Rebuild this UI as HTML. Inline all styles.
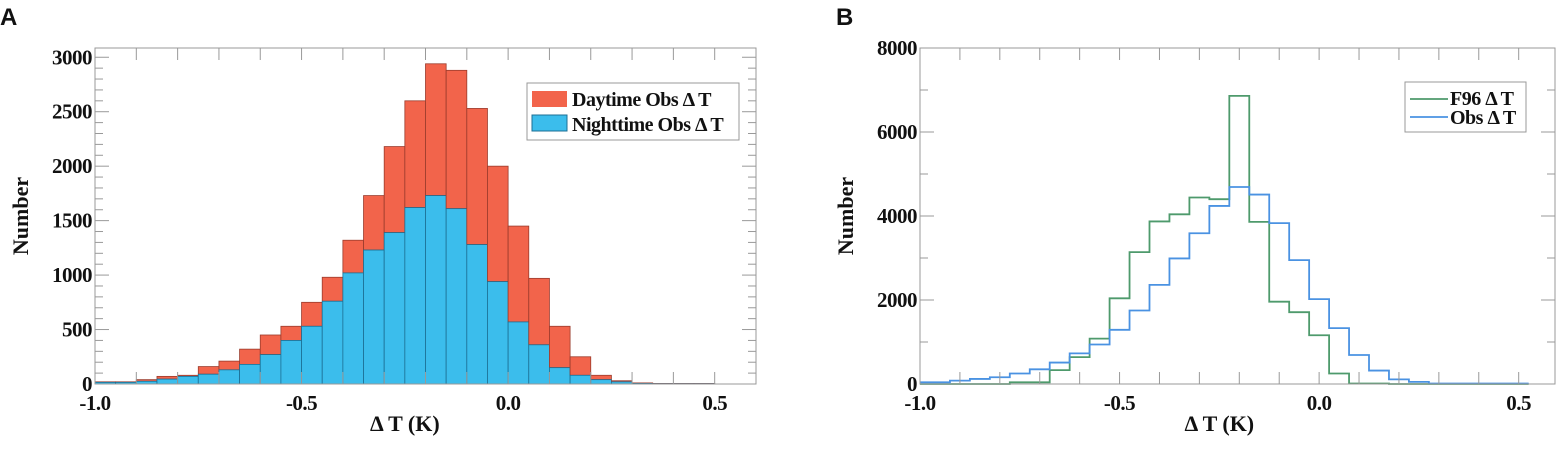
<!DOCTYPE html>
<html><head><meta charset="utf-8"><style>
body{margin:0;background:#fff;}
svg text{font-family:"Liberation Serif",serif;font-weight:bold;fill:#111;}
</style></head><body>
<svg id="c" width="1556" height="444" xmlns="http://www.w3.org/2000/svg">
<text x="0" y="25" style="font-family:'Liberation Sans',sans-serif;font-size:24px">A</text>
<text x="836" y="25" style="font-family:'Liberation Sans',sans-serif;font-size:24px">B</text>
<g id="pa"></g>
<g id="pb"></g>
</svg>
<script>
const centersA=[-0.975,-0.925,-0.875,-0.825,-0.775,-0.725,-0.675,-0.625,-0.575,-0.525,-0.475,-0.425,-0.375,-0.325,-0.275,-0.225,-0.175,-0.125,-0.075,-0.025,0.025,0.075,0.125,0.175,0.225,0.275,0.325,0.375,0.425,0.475];
const nightA=[15,15,25,45,70,90,130,180,270,400,530,760,1020,1230,1390,1620,1730,1610,1280,940,570,360,150,80,40,20,5,3,3,3];
const totalA=[20,20,40,70,80,160,210,320,450,530,750,980,1320,1730,2180,2600,2940,2880,2530,2000,1450,970,530,250,80,30,10,5,5,5];
const yTicksA=[0,500,1000,1500,2000,2500,3000];
const xTicks=[-1.0,-0.5,0.0,0.5];
const xTickLabels=["-1.0","-0.5","0.0","0.5"];
const centersB=[-1.0,-0.95,-0.9,-0.85,-0.8,-0.75,-0.7,-0.65,-0.6,-0.55,-0.5,-0.45,-0.4,-0.35,-0.3,-0.25,-0.2,-0.15,-0.1,-0.05,0,0.05,0.1,0.15,0.2,0.25,0.3,0.35,0.4,0.45,0.5];
const obsB=[40,40,80,120,160,250,350,510,730,940,1290,1750,2360,2990,3590,4240,4690,4510,3830,2950,2020,1330,690,320,110,50,10,10,10,10,10];
const f96B=[0,0,0,0,0,40,40,330,640,1080,2040,3140,3870,4040,4440,4400,6860,3860,1960,1710,1160,250,10,10,0,0,0,0,0,0,0];
const yTicksB=[0,2000,4000,6000,8000];
const NS="http://www.w3.org/2000/svg";
function mk(p,t,a){const e=document.createElementNS(NS,t);for(const k in a)e.setAttribute(k,a[k]);p.appendChild(e);return e;}
function panel(g,L,R,T,B,x0,x1,yMax,yMinor,yTicks,ymaj){
 const sx=v=>L+(v-x0)/(x1-x0)*(R-L), sy=v=>B-v/yMax*(B-T);
 return {sx,sy,frame(){
  const r=mk(g,'rect',{x:L,y:T,width:R-L,height:B-T,fill:'none',stroke:'#999','stroke-width':1});
  
  
  for(let i=0;i<=15;i++){const v=-1+i*0.1;const x=sx(v);if(x>R)break;
   mk(g,'line',{x1:x,x2:x,y1:B,y2:B-12,stroke:'#999'});mk(g,'line',{x1:x,x2:x,y1:T,y2:T+12,stroke:'#999'});}
  for(let v=0;v<=yMax+1;v+=yMinor){const y=sy(v);const len=(Math.round(v)%ymaj===0)?14:8;
   mk(g,'line',{x1:L,x2:L+len,y1:y,y2:y,stroke:'#999'});mk(g,'line',{x1:R,x2:R-len,y1:y,y2:y,stroke:'#999'});}
  yTicks.forEach(v=>{const t=mk(g,'text',{x:L-3,y:sy(v)+7,'text-anchor':'end','font-size':21,'letter-spacing':'-0.5'});t.textContent=v;
   });
  xTicks.forEach((v,i)=>{const t=mk(g,'text',{x:sx(v),y:B+26,'text-anchor':'middle','font-size':21,'letter-spacing':'-0.5'});t.textContent=xTickLabels[i];
   });
  const xt=mk(g,'text',{x:(sx(-0.25)),y:431,'text-anchor':'middle','font-size':22});xt.textContent='Δ T (K)';
  
  const yt=mk(g,'text',{x:0,y:0,'text-anchor':'middle','font-size':22,transform:`translate(${L-67},${(T+B)/2}) rotate(-90)`});yt.textContent='Number';
  
 }};
}
const ga=document.getElementById('pa');
const A=panel(ga,95,756,48,384,-1.0,0.6,3085,100,yTicksA,500);
const w=0.05;
centersA.forEach((c,i)=>{
 const x=A.sx(c-w/2),wd=A.sx(c+w/2)-x;
 const r1=mk(ga,'rect',{x:x,y:A.sy(totalA[i]),width:wd,height:A.sy(nightA[i])-A.sy(totalA[i]),fill:'#f2644b',stroke:'#9a3b2c','stroke-width':0.8});
 
 
 const r2=mk(ga,'rect',{x:x,y:A.sy(nightA[i]),width:wd,height:A.sy(0)-A.sy(nightA[i]),fill:'#3bbdec',stroke:'#1c6f94','stroke-width':0.8});
 
 
});
A.frame();
const la=mk(ga,'g',{});
mk(la,'rect',{x:527,y:83,width:212,height:57,fill:'#fff',stroke:'#999'});
mk(la,'rect',{x:532,y:91,width:35,height:16,fill:'#f2644b'});
mk(la,'rect',{x:532,y:115,width:35,height:16,fill:'#3bbdec',stroke:'#1c6f94'});
let t=mk(la,'text',{x:572,y:106,'font-size':20,'letter-spacing':'-0.5'});t.textContent='Daytime Obs Δ T';

t=mk(la,'text',{x:572,y:131,'font-size':20,'letter-spacing':'-0.5'});t.textContent='Nighttime Obs Δ T';

const gb=document.getElementById('pb');
const Bp=panel(gb,920,1555,48,384,-1.0,0.591,8000,1000,yTicksB,2000);
mk(gb,'clipPath',{id:'cb'}).appendChild(document.createElementNS(NS,'rect'));
const cr=gb.querySelector('#cb rect');cr.setAttribute('x',920);cr.setAttribute('y',40);cr.setAttribute('width',635);cr.setAttribute('height',345);
function step(vals,color,name){
 let d='';
 centersB.forEach((c,i)=>{const x0=Bp.sx(c-w/2),x1=Bp.sx(c+w/2),y=Bp.sy(vals[i]);d+=(i===0?'M':'L')+x0+','+y+'L'+x1+','+y;});
 const p=mk(gb,'path',{d:d,fill:'none',stroke:color,'stroke-width':1.8,'clip-path':'url(#cb)'});
 
 
}
step(f96B,'#4e9a6c','line-f96');
step(obsB,'#4a92e2','line-obs');
Bp.frame();
const lb=mk(gb,'g',{});
mk(lb,'rect',{x:1405,y:82,width:121,height:50,fill:'#fff',stroke:'#999'});
mk(lb,'line',{x1:1410,x2:1448,y1:99,y2:99,stroke:'#4e9a6c','stroke-width':1.8});
mk(lb,'line',{x1:1410,x2:1448,y1:117,y2:117,stroke:'#4a92e2','stroke-width':1.8});
t=mk(lb,'text',{x:1450,y:105,'font-size':20,'letter-spacing':'-0.5'});t.textContent='F96 Δ T';

t=mk(lb,'text',{x:1450,y:124,'font-size':20,'letter-spacing':'-0.5'});t.textContent='Obs Δ T';

</script>
</body></html>
